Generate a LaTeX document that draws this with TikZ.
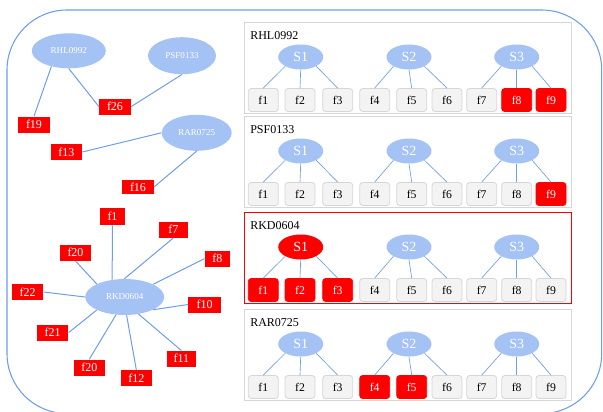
\documentclass[tikz,border=0pt]{standalone}
\usepackage{fontspec}
\setmainfont{Liberation Serif}
\usetikzlibrary{shapes.geometric}
\definecolor{NodeBlue}{HTML}{A4C2F4}
\definecolor{EdgeBlue}{HTML}{6D9EEB}
\definecolor{CellGray}{HTML}{F3F3F3}
\definecolor{CellLine}{HTML}{D6D6D6}
\definecolor{HotRed}{HTML}{FF0000}

\begin{document}
\begin{tikzpicture}[x=0.75pt,y=-0.75pt,
  prot/.style={ellipse,fill=NodeBlue,text=white,inner sep=0pt,font=\fontsize{6.8}{8}\selectfont},
  tag/.style={rectangle,fill=HotRed,text=white,inner sep=0pt,minimum width=23.6pt,
              minimum height=12pt,font=\fontsize{9}{10}\selectfont},
  link/.style={EdgeBlue,line width=0.75pt},
  outline/.style={draw=EdgeBlue,line width=0.8pt,rounded corners=45pt},
  card/.style={rectangle,draw=CellLine,line width=0.75pt,inner sep=0pt,anchor=north west,
               minimum width=245.6pt,minimum height=68.25pt},
  title/.style={anchor=base west,inner sep=0pt,font=\fontsize{9}{10}\selectfont},
  site/.style={ellipse,fill=NodeBlue,text=white,inner sep=0pt,minimum width=33.75pt,
               minimum height=18.75pt,font=\fontsize{10.5}{12}\selectfont},
  hotsite/.style={site,fill=HotRed},
  cell/.style={rectangle,rounded corners=2.25pt,draw=CellLine,fill=CellGray,line width=0.6pt,
               inner sep=0pt,minimum width=22.5pt,minimum height=17.25pt,font=\fontsize{8.8}{10}\selectfont},
  hot/.style={cell,draw=HotRed,fill=HotRed,text=white},
  branch/.style={EdgeBlue,line width=0.5pt},
]
\useasboundingbox (0,0) rectangle (603,411);
% outer frame runs off the bottom edge
\begin{scope}[overlay]
  \clip (0,0) rectangle (603,411);
  \draw[outline] (7,10) rectangle (601.7,413.5);
\end{scope}

% interaction graph
\node[prot,minimum width=55.5pt,minimum height=26.25pt] (rhl) at (68.8,50.8) {RHL0992};
\node[prot,minimum width=51pt,minimum height=27.75pt]   (psf) at (182,55.7)  {PSF0133};
\node[prot,minimum width=52.5pt,minimum height=27pt]    (rar) at (196.7,132.8) {RAR0725};
\node[prot,minimum width=59.25pt,minimum height=27pt]   (rkd) at (124.7,297) {RKD0604};

\node[tag] (f26) at (115,106.7) {f26};
\node[tag] (f19) at (34,124.5)  {f19};
\node[tag] (f13) at (66.3,152)  {f13};
\node[tag,minimum height=10.5pt] (f16) at (138,187) {f16};

\node[tag,minimum width=18.75pt,minimum height=12.75pt] (f1) at (112.5,216.7) {f1};
\node[tag,minimum width=21.5pt] (f7)  at (173.3,229.7) {f7};
\node[tag]                      (fa)  at (75.5,252.7)  {f20};
\node[tag,minimum width=19pt]   (f8)  at (217.3,258.7) {f8};
\node[tag]                      (f22) at (27.7,292)    {f22};
\node[tag,minimum width=24.5pt] (f10) at (204.7,304.5) {f10};
\node[tag]                      (f21) at (52.7,332.5)  {f21};
\node[tag,minimum width=22pt]   (f11) at (181.3,358.7) {f11};
\node[tag]                      (fb)  at (89.3,367.5)  {f20};
\node[tag]                      (f12) at (136.3,378)   {f12};

\draw[link] (rhl.222) -- (f19.north);
\draw[link] (rhl.south) -- (f26.west);
\draw[link] (psf.south) -- (f26.east);
\draw[link] (rar.west) -- (f13.east);
\draw[link] (rar.south) -- (f16.east);
\foreach \t/\a/\b in {f1/126/south,f7/91/south,fa/155/south,f8/24/west,f22/180/east,
                      f10/-24/west,f21/205/east,f11/-51/north,fb/-116/north,f12/-84/north}
  \draw[link] (rkd.\a) -- (\t.\b);

% site panels
\foreach \py/\pn/\pc/\sa/\cells [count=\i] in {
    22/RHL0992/CellLine/site/{cell,cell,cell,cell,cell,cell,cell,hot,hot},
    116/PSF0133/CellLine/site/{cell,cell,cell,cell,cell,cell,cell,cell,hot},
    212/RKD0604/HotRed/hotsite/{hot,hot,hot,cell,cell,cell,cell,cell,cell},
    309/RAR0725/CellLine/site/{cell,cell,cell,hot,hot,cell,cell,cell,cell}}{
  \node[card,draw=\pc] (card\i) at (244,\py) {};
  \node[title] (name\i) at (250,\py+17.3) {\pn};
  \node[\sa]  (p\i-s1) at (300.7,\py+35) {S1};
  \node[site] (p\i-s2) at (409,\py+35)   {S2};
  \node[site] (p\i-s3) at (516.7,\py+35) {S3};
  \foreach \st [count=\k] in \cells {
    \pgfmathsetmacro\cx{{263.3,300,337.7,374.7,411.7,447,481.7,516.7,551}[\k-1]}
    \node[\st] (p\i-f\k) at (\cx,\py+78) {f\k};
  }
  \foreach \k/\g/\a in {1/1/211,2/1/south,3/1/329,4/2/211,5/2/south,6/2/329,7/3/211,8/3/south,9/3/329}
    \draw[branch] (p\i-s\g.\a) -- (p\i-f\k.north);
}
\end{tikzpicture}
\end{document}
